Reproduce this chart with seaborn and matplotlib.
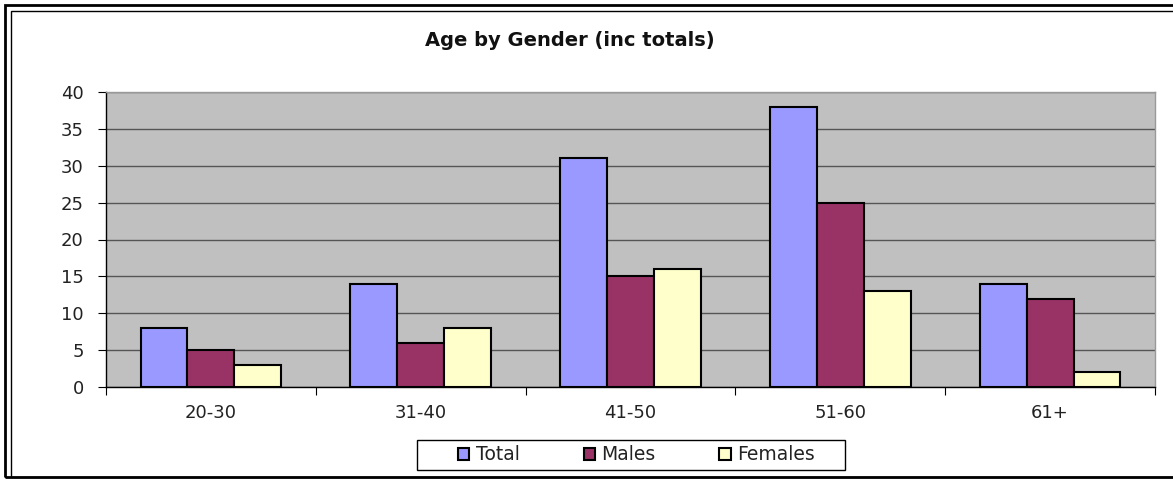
import pandas as pd
import seaborn as sns
import matplotlib.pyplot as plt
from matplotlib.patches import Rectangle

# Chart values
age_groups = ['20-30', '31-40', '41-50', '51-60', '61+']
total = [8, 14, 31, 38, 14]
males = [5, 6, 15, 25, 12]
females = [3, 8, 16, 13, 2]
series = ['Total', 'Males', 'Females']
colors = ['#9999FF', '#993366', '#FFFFCC']

df = pd.DataFrame({'Age': age_groups, 'Total': total, 'Males': males, 'Females': females})
df_long = df.melt(id_vars='Age', var_name='Series', value_name='Count')

sns.set_style('white')
plt.rcParams['font.family'] = ['DejaVu Sans']

W, H = 1173, 479
fig = plt.figure(figsize=(W / 100, H / 100), dpi=100)
ax = fig.add_axes([106 / W, 1 - 387 / H, 1049 / W, 295 / H])

sns.barplot(data=df_long, x='Age', y='Count', hue='Series', hue_order=series,
            palette=colors, width=0.67, gap=0, saturation=1,
            edgecolor='black', linewidth=1.5, ax=ax)

ax.set_facecolor('#C0C0C0')
ax.set_ylim(0, 40)
ax.set_xlim(-0.5, 4.5)
ax.set_yticks(range(0, 41, 5))
ax.yaxis.grid(True, color='#555555', linewidth=1)
ax.set_axisbelow(True)
ax.set_xlabel('')
ax.set_ylabel('')

for side in ['top', 'right']:
    ax.spines[side].set_color('#999999')
    ax.spines[side].set_linewidth(1)
for side in ['left', 'bottom']:
    ax.spines[side].set_color('black')
    ax.spines[side].set_linewidth(1)

# tick marks at category boundaries
ax.set_xticks([i - 0.5 for i in range(6)], minor=False)
ax.set_xticklabels([])
ax.set_xticks(range(5), minor=True)
ax.set_xticklabels(age_groups, minor=True)
ax.tick_params(axis='x', which='major', direction='out', length=6, color='black', bottom=True)
ax.tick_params(axis='x', which='minor', length=0, pad=12, labelsize=13, labelcolor='#222222')
ax.tick_params(axis='y', direction='out', length=6, color='black', left=True,
               labelsize=13, pad=10, labelcolor='#222222')

# legend without its own frame, box drawn separately (wide padding like the original)
leg = fig.legend(*ax.get_legend_handles_labels(), loc='center',
                 bbox_to_anchor=(636.5 / W, 1 - 455 / H), ncol=3, frameon=False,
                 fontsize=13.5, handlelength=0.6, handleheight=0.6, handletextpad=0.35,
                 columnspacing=3.4, borderpad=0, borderaxespad=0)
ax.get_legend().remove()
for t in leg.get_texts():
    t.set_color('#222222')
fig.patches.append(Rectangle((417 / W, 1 - 470 / H), 428 / W, 30 / H, transform=fig.transFigure,
                             fill=False, edgecolor='black', linewidth=1))

fig.text(570 / W, 1 - 40 / H, 'Age by Gender (inc totals)', ha='center', va='center',
         fontsize=14, fontweight='bold', color='#111111')

# double frame around the chart
fig.patches.append(Rectangle((5 / W, 2 / H), 1.2, 1 - 7 / H, transform=fig.transFigure,
                             fill=False, edgecolor='black', linewidth=2))
fig.patches.append(Rectangle((11 / W, 2 / H), 1.2, 1 - 13 / H, transform=fig.transFigure,
                             fill=False, edgecolor='black', linewidth=1))

fig.savefig('out.png', dpi=100)
